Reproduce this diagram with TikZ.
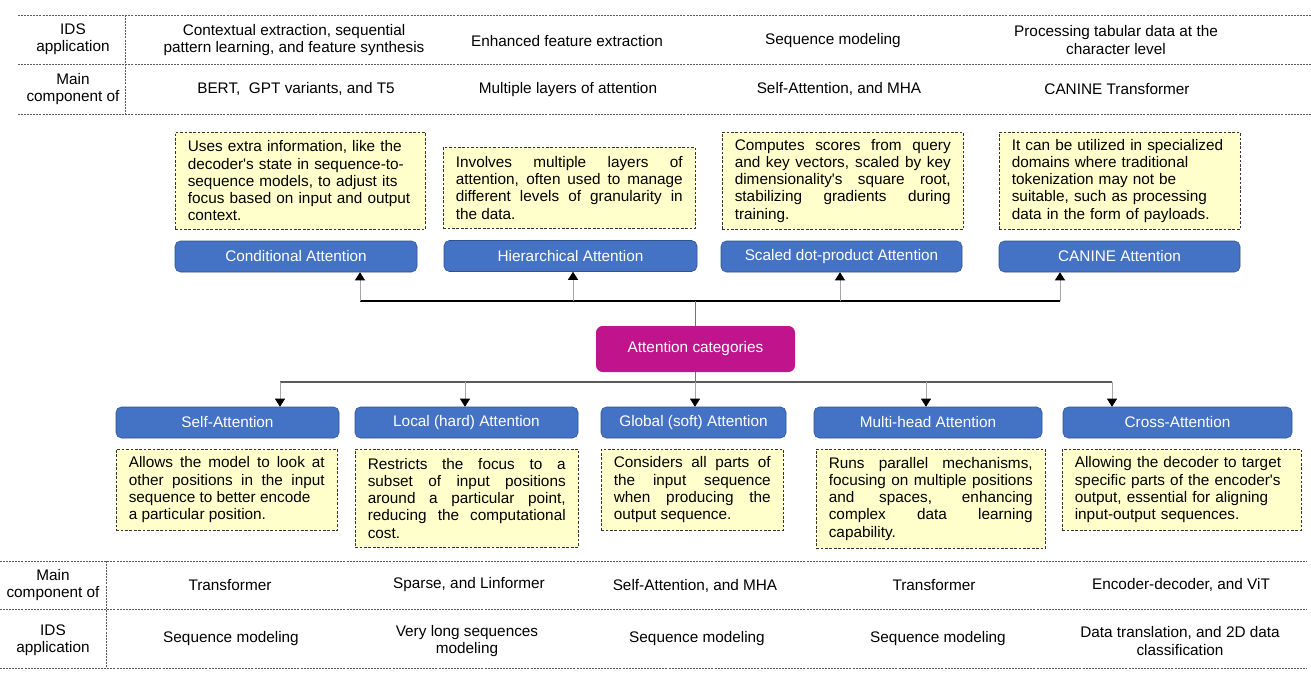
\documentclass[tikz,border=0pt]{standalone}
\usepackage{fontspec}
\setmainfont{Liberation Sans}
\usetikzlibrary{positioning,arrows.meta,calc}
\definecolor{catblue}{RGB}{68,114,196}
\definecolor{catedge}{RGB}{47,82,143}
\definecolor{rootmag}{RGB}{191,20,140}
\definecolor{notefill}{RGB}{255,255,204}
\definecolor{rulegray}{RGB}{90,90,90}
\newcommand{\dfont}{\fontsize{11.5}{12.9}\selectfont}
\newcommand{\apo}{\textquotesingle}
\tikzset{
  catbox/.style ={draw=catedge, fill=catblue, text=white, rounded corners=4pt,
                  font=\dfont, minimum height=23.25pt, inner sep=2pt},
  rootbox/.style={fill=rootmag, text=white, rounded corners=5pt, font=\dfont,
                  minimum width=149.25pt, minimum height=34.5pt},
  note/.style   ={draw=black!80, dash pattern=on 2pt off 1.3pt, fill=notefill, font=\dfont,
                  inner xsep=9.4pt, inner ysep=3pt, anchor=north west},
  cell/.style   ={font=\dfont, align=center},
  rule/.style   ={draw=rulegray, dash pattern=on 1.5pt off 0.8pt, line width=0.6pt},
  ar/.style     ={-{Triangle[length=6pt,width=7.5pt,color=black]}, draw=black!35, line width=0.5pt},
  bus/.style    ={line width=0.8pt},
}
\begin{document}
\begin{tikzpicture}[x=0.75pt,y=-0.75pt]
\useasboundingbox (0,0) rectangle (1311,674);

% top table
\draw[rule] (18,15) -- (1311,15);
\draw[rule] (18,64) -- (1311,64);
\draw[rule] (18,114) -- (1311,114);
\draw[rule] (125,15) -- (125,114);
\node[cell] (tids) at (73,39) {IDS\\ application};
\node[cell] (tmain) at (73,89) {Main\\ component of};
\node[cell] (tids1) at (294,40) {Contextual extraction, sequential\\ pattern learning, and feature synthesis};
\node[cell] (tids2) at (567,41) {Enhanced feature extraction};
\node[cell] (tids3) at (833,41) {Sequence modeling};
\node[cell] (tids4) at (1116,40) {Processing tabular data at the\\ character level};
\node[cell] (tmain1) at (296,89) {BERT,\ \ GPT variants, and T5};
\node[cell] (tmain2) at (568,90) {Multiple layers of attention};
\node[cell] (tmain3) at (839,89) {Self-Attention, and MHA};
\node[cell] (tmain4) at (1117,89) {CANINE Transformer};

% upper categories
\node[catbox,minimum width=181.5pt] (cond) at (296,256.5) {Conditional Attention};
\node[catbox,minimum width=189.75pt] (hier) at (570.5,256) {Hierarchical Attention};
\node[catbox,minimum width=180.75pt] (scal) at (841.5,256.5) {Scaled dot-product Attention};
\node[catbox,minimum width=180.75pt] (can) at (1119.5,256.5) {CANINE Attention};

\node[note,text width=168.75pt,minimum height=72.75pt,align=left] (ncond) at (175,132)
  {Uses extra information, like the\\ decoder\apo s state in sequence-to-\\ sequence models, to adjust its\\ focus based on input and output\\ context.};
\node[note,text width=170.2pt,minimum height=60.75pt,align=justify] (nhier) at (443,147)
  {Involves multiple layers of\linebreak attention, often used to manage\linebreak different levels of granularity in\linebreak the data.};
\node[note,text width=161.95pt,minimum height=72.75pt,align=justify] (nscal) at (722,132)
  {Computes scores from query\linebreak and key vectors, scaled by key\linebreak dimensionality\apo s square root,\linebreak stabilizing gradients during\linebreak training.};
\node[note,text width=161.95pt,minimum height=72.75pt,align=left] (ncan) at (999,132)
  {It can be utilized in specialized\\ domains where traditional\\ tokenization may not be\\ suitable, such as processing\\ data in the form of payloads.};

% root
\node[rootbox] (root) at (695.5,349) {Attention categories};

% lower categories
\node[catbox,minimum width=167.25pt] (self) at (227.5,422.5) {Self-Attention};
\node[catbox,minimum width=167.25pt] (loc) at (466.5,422.5) {Local (hard) Attention};
\node[catbox,minimum width=138.75pt] (glob) at (693.5,422.5) {Global (soft) Attention};
\node[catbox,minimum width=171pt] (multi) at (928,422.5) {Multi-head Attention};
\node[catbox,minimum width=171.75pt] (cross) at (1177.5,422.5) {Cross-Attention};

\node[note,text width=146.95pt,minimum height=60.75pt,align=justify] (nself) at (116,449)
  {Allows the model to look at\linebreak other positions in the input\linebreak sequence to better encode\\ a particular position.};
\node[note,text width=148.45pt,minimum height=73.5pt,align=justify] (nloc) at (355,449)
  {Restricts the focus to a\linebreak subset of input positions\linebreak around a particular point,\linebreak reducing the computational\linebreak cost.};
\node[note,text width=117.7pt,minimum height=60.75pt,align=justify] (nglob) at (601,449)
  {Considers all parts of\linebreak the input sequence\linebreak when producing the\linebreak output sequence.};
\node[note,text width=152.95pt,minimum height=74.25pt,align=justify] (nmulti) at (816,449)
  {Runs parallel mechanisms,\linebreak focusing on multiple positions\linebreak and spaces, enhancing\linebreak complex data learning\linebreak capability.};
\node[note,text width=160.45pt,minimum height=60.75pt,align=left] (ncross) at (1062,449)
  {Allowing the decoder to target\\ specific parts of the encoder\apo s\\ output, essential for aligning\\ input-output sequences.};

% connectors
\coordinate (tb1) at (360,301); \coordinate (tb2) at (573,301);
\coordinate (tb3) at (840,301); \coordinate (tb4) at (1060,301);
\draw[bus] (tb1) -- (tb4);
\draw[draw=black!55,line width=1.3pt] (root.north) -- (root.north |- tb1);
\foreach \c/\b in {tb1/cond,tb2/hier,tb3/scal,tb4/can}
  \draw[ar] (\c) -- (\c |- \b.south);

\coordinate (bb1) at (280,382); \coordinate (bb2) at (465,382);
\coordinate (bb3) at (695,382); \coordinate (bb4) at (926,382);
\coordinate (bb5) at (1112,382);
\draw[bus,draw=black!65] (bb1) -- (bb5);
\draw[draw=black!55,line width=1.3pt] (root.south) -- (root.south |- bb1);
\foreach \c/\b in {bb1/self,bb2/loc,bb3/glob,bb4/multi,bb5/cross}
  \draw[ar] (\c) -- (\c |- \b.north);

% bottom table
\draw[rule] (0,561) -- (1307,561);
\draw[rule] (0,609) -- (1307,609);
\draw[rule] (0,668) -- (1307,668);
\draw[rule] (106,561) -- (106,668);
\node[cell] (bmain) at (53,585) {Main\\ component of};
\node[cell] (bids) at (53,640) {IDS\\ application};
\node[cell] (bmain1) at (230,585) {Transformer};
\node[cell] (bmain2) at (469,585) {Sparse, and Linformer};
\node[cell] (bmain3) at (695,586) {Self-Attention, and MHA};
\node[cell] (bmain4) at (934,585) {Transformer};
\node[cell] (bmain5) at (1181,585) {Encoder-decoder, and ViT};
\node[cell] (bids1) at (231,639) {Sequence modeling};
\node[cell] (bids2) at (467,641) {Very long sequences\\ modeling};
\node[cell] (bids3) at (697,639) {Sequence modeling};
\node[cell] (bids4) at (938,639) {Sequence modeling};
\node[cell] (bids5) at (1180,641) {Data translation, and 2D data\\ classification};
\end{tikzpicture}
\end{document}
